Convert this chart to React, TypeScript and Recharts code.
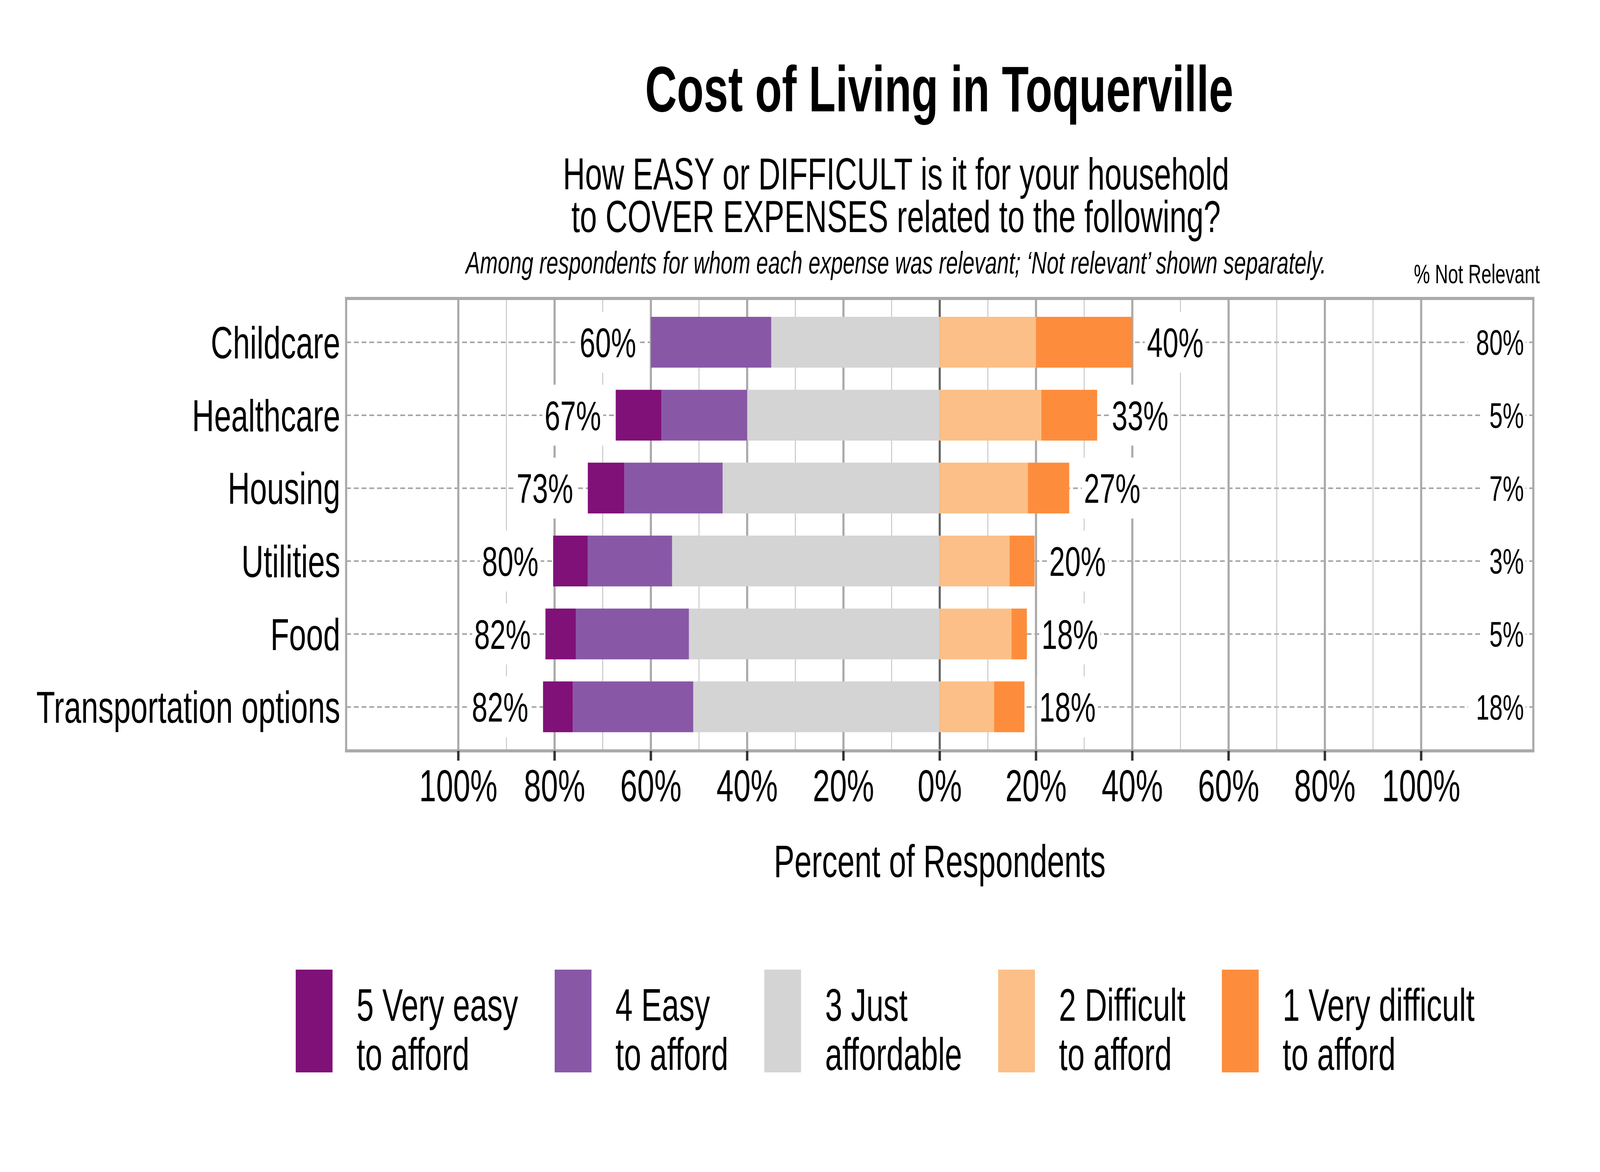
import React from "react";
import { Bar, BarChart, CartesianGrid, LabelList, Legend, XAxis, YAxis } from "recharts";

// ---- data (percent of respondents among those for whom the expense was relevant) ----
const ITEMS = ["Childcare", "Healthcare", "Housing", "Utilities", "Food", "Transportation options"];
const VERY_EASY = [0, 9.5, 7.6, 7.2, 6.3, 6.2];
const EASY = [25.0, 17.8, 20.4, 17.5, 23.5, 25.0];
const JUST = [35.0, 40.0, 45.1, 55.6, 52.1, 51.2];
const DIFFICULT = [20.0, 21.1, 18.3, 14.5, 14.9, 11.3];
const VERY_DIFFICULT = [20.0, 11.6, 8.6, 5.2, 3.2, 6.3];
const NOT_RELEVANT = [80, 5, 7, 3, 5, 18];

const X_TICKS = [-100, -80, -60, -40, -20, 0, 20, 40, 60, 80, 100];
const MINOR_GRID = [-90, -70, -50, -30, -10, 10, 30, 50, 70, 90];
const MAJOR_GRID = [-100, -80, -60, -40, -20, 20, 40, 60, 80, 100];
const X_MIN = -123.3;
const X_MAX = 123.3;

// stack order: from zero outwards (left side negative)
const SERIES = [
  { key: "just", name: "3 Just\naffordable", color: "#D4D4D4", side: "left" },
  { key: "easy", name: "4 Easy\nto afford", color: "#8858A7", side: "left" },
  { key: "veryEasy", name: "5 Very easy\nto afford", color: "#801178", side: "left" },
  { key: "difficult", name: "2 Difficult\nto afford", color: "#FCBF87", side: "right" },
  { key: "veryDifficult", name: "1 Very difficult\nto afford", color: "#FD8D3C", side: "right" },
];
const LEGEND_ORDER = ["veryEasy", "easy", "just", "difficult", "veryDifficult"];
const LEGEND_X = [1109, 2080, 2866, 3743, 4582];

const rows = ITEMS.map((item, i) => {
  const left = VERY_EASY[i] + EASY[i] + JUST[i];
  const right = DIFFICULT[i] + VERY_DIFFICULT[i];
  const outerLeft = VERY_EASY[i] > 0 ? "veryEasy" : EASY[i] > 0 ? "easy" : "just";
  const outerRight = VERY_DIFFICULT[i] > 0 ? "veryDifficult" : "difficult";
  return {
    item,
    just: -JUST[i],
    easy: -EASY[i],
    veryEasy: -VERY_EASY[i],
    difficult: DIFFICULT[i],
    veryDifficult: VERY_DIFFICULT[i],
    [`lab_${outerLeft}`]: `${Math.round(left)}%`,
    [`lab_${outerRight}`]: `${Math.round(right)}%`,
    nr: `${NOT_RELEVANT[i]}%`,
  };
});

const W = 6000;
const H = 3000;
const FONT = "'Liberation Sans', Arial, Helvetica, sans-serif";
const LABEL_FS = 106;
const NR_FS = 90;
const NR_RIGHT = 5715;

// rough Arial advance width for "NN%" style strings
function textWidth(s: string, fs: number) {
  let w = 0;
  for (const ch of s) w += ch === "%" ? 0.889 : 0.556;
  return w * fs;
}

function boxOf(props: any) {
  const vb = props.viewBox && props.viewBox.width !== undefined ? props.viewBox : props;
  return { x: Number(vb.x), y: Number(vb.y), w: Number(vb.width), h: Number(vb.height) };
}

function sideLabel(side: string) {
  return (props: any) => {
    const { value } = props;
    if (value === undefined || value === null || value === "") return null;
    const { x, y, w, h } = boxOf(props);
    const cy = y + h / 2;
    const edge = side === "left" ? Math.min(x, x + w) : Math.max(x, x + w);
    const tw = textWidth(String(value), LABEL_FS);
    const tx = side === "left" ? edge - 55 : edge + 55;
    const bx = side === "left" ? tx - tw - 8 : tx - 8;
    return (
      <g>
        <rect x={bx} y={cy - 78} width={tw + 16} height={156} fill="#ffffff" />
        <text
          x={tx}
          y={cy + LABEL_FS * 0.36}
          textAnchor={side === "left" ? "end" : "start"}
          fontSize={LABEL_FS}
          fontFamily={FONT}
          fill="#000"
        >
          {value}
        </text>
      </g>
    );
  };
}

const nrLabel = (props: any) => {
  const { value } = props;
  if (value === undefined || value === null) return null;
  const { y, h } = boxOf(props);
  const cy = y + h / 2;
  const tw = textWidth(String(value), NR_FS);
  return (
    <g>
      <rect x={NR_RIGHT - tw - 30} y={cy - 60} width={tw + 36} height={120} fill="#ffffff" />
      <text x={NR_RIGHT} y={cy + NR_FS * 0.36} textAnchor="end" fontSize={NR_FS} fontFamily={FONT} fill="#000">
        {value}
      </text>
    </g>
  );
};

function xPx(args: any, v: number) {
  const { xAxis, offset } = args;
  if (xAxis && typeof xAxis.scale === "function") return xAxis.scale(v);
  return offset.left + ((v - X_MIN) / (X_MAX - X_MIN)) * offset.width;
}

const renderLegend = (props: any) => {
  const payload = [...(props.payload ?? [])].sort(
    (a: any, b: any) => LEGEND_ORDER.indexOf(a.dataKey) - LEGEND_ORDER.indexOf(b.dataKey)
  );
  return (
    <svg width={W} height={420} style={{ display: "block" }}>
      {payload.map((p: any, i: number) => {
        const x = LEGEND_X[i];
        const lines = String(p.value).split("\n");
        return (
          <g key={String(p.dataKey)}>
            <rect x={x} y={82} width={138} height={263} fill={p.color} />
            {lines.map((ln, j) => (
              <text key={j} x={x + 228} y={213 + j * 126} fontSize={116} fontFamily={FONT} fill="#000">
                {ln}
              </text>
            ))}
          </g>
        );
      })}
    </svg>
  );
};

export default function App() {
  // the browser may cap the viewport below 6000 px; fit the 6000x3000 drawing to what is there
  const vw = typeof window !== "undefined" ? window.innerWidth : W;
  const vh = typeof window !== "undefined" ? window.innerHeight : H;
  const sx = Math.min(1, vw / W);
  const sy = Math.min(1, vh / H);
  return (
    <div
      style={{
        position: "absolute",
        left: 0,
        top: 0,
        width: W,
        height: H,
        background: "#ffffff",
        fontFamily: FONT,
        transform: `scale(${sx}, ${sy})`,
        transformOrigin: "0 0",
      }}
    >
      <BarChart
        width={W}
        height={H}
        data={rows}
        layout="vertical"
        stackOffset="sign"
        barSize={130}
        margin={{ top: 764, right: 250, bottom: 738, left: 898 }}
      >
        {/* dashed row lines */}
        <CartesianGrid vertical={false} stroke="#A4A4A4" strokeWidth={4} strokeDasharray="18 11" />
        {/* minor verticals */}
        <CartesianGrid
          horizontal={false}
          stroke="#BDBDBD"
          strokeWidth={3}
          verticalCoordinatesGenerator={(a: any) => MINOR_GRID.map((v) => xPx(a, v))}
        />
        {/* major verticals */}
        <CartesianGrid
          horizontal={false}
          stroke="#AAAAAA"
          strokeWidth={8}
          verticalCoordinatesGenerator={(a: any) => MAJOR_GRID.map((v) => xPx(a, v))}
        />
        {/* zero line */}
        <CartesianGrid
          horizontal={false}
          stroke="#666666"
          strokeWidth={8}
          verticalCoordinatesGenerator={(a: any) => [xPx(a, 0)]}
        />
        {/* panel border */}
        <CartesianGrid
          stroke="#AAAAAA"
          strokeWidth={8}
          strokeLinecap="square"
          verticalCoordinatesGenerator={(a: any) => [a.offset.left, a.offset.left + a.offset.width]}
          horizontalCoordinatesGenerator={(a: any) => [a.offset.top, a.offset.top + a.offset.height]}
        />
        <XAxis
          type="number"
          domain={[X_MIN, X_MAX]}
          ticks={X_TICKS}
          interval={0}
          allowDataOverflow
          tickFormatter={(v: number) => `${Math.abs(v)}%`}
          axisLine={false}
          tickLine={{ stroke: "#333333", strokeWidth: 9 }}
          tickSize={25}
          tickMargin={22}
          tick={{ fill: "#000000", fontSize: 115, fontFamily: FONT }}
          height={340}
          label={{
            value: "Percent of Respondents",
            position: "insideBottom",
            offset: 17,
            fill: "#000000",
            fontSize: 116,
            fontFamily: FONT,
          }}
        />
        <YAxis
          type="category"
          dataKey="item"
          width={400}
          axisLine={false}
          tickLine={false}
          tickSize={0}
          tickMargin={22}
          padding={{ top: 19, bottom: 19 }}
          tick={{ fill: "#000000", fontSize: 115, fontFamily: FONT }}
        />
        <Legend
          layout="horizontal"
          verticalAlign="middle"
          align="center"
          wrapperStyle={{ top: 2400, left: 0, width: W, height: 420 }}
          content={renderLegend}
        />
        {SERIES.map((s) => (
          <Bar
            key={s.key}
            dataKey={s.key}
            name={s.name}
            stackId="a"
            fill={s.color}
            isAnimationActive={false}
          >
            <LabelList dataKey={`lab_${s.key}`} content={sideLabel(s.side)} />
            {s.key === "difficult" && <LabelList dataKey="nr" content={nrLabel} />}
          </Bar>
        ))}
      </BarChart>
      <svg
        width={W}
        height={760}
        style={{ position: "absolute", left: 0, top: 0, pointerEvents: "none" }}
        fontFamily={FONT}
      >
        <text x={3522} y={285} textAnchor="middle" fontSize={165} fontWeight="bold" fill="#000">
          Cost of Living in Toquerville
        </text>
        <text x={3360} y={485} textAnchor="middle" fontSize={115} fill="#000">
          How EASY or DIFFICULT is it for your household
        </text>
        <text x={3360} y={594} textAnchor="middle" fontSize={115} fill="#000">
          to COVER EXPENSES related to the following?
        </text>
        <text x={3360} y={700} textAnchor="middle" fontSize={80} fontStyle="italic" fill="#000">
          Among respondents for whom each expense was relevant; ‘Not relevant’ shown separately.
        </text>
        <text x={5538} y={725} textAnchor="middle" fontSize={68} fill="#000">
          % Not Relevant
        </text>
      </svg>
    </div>
  );
}
